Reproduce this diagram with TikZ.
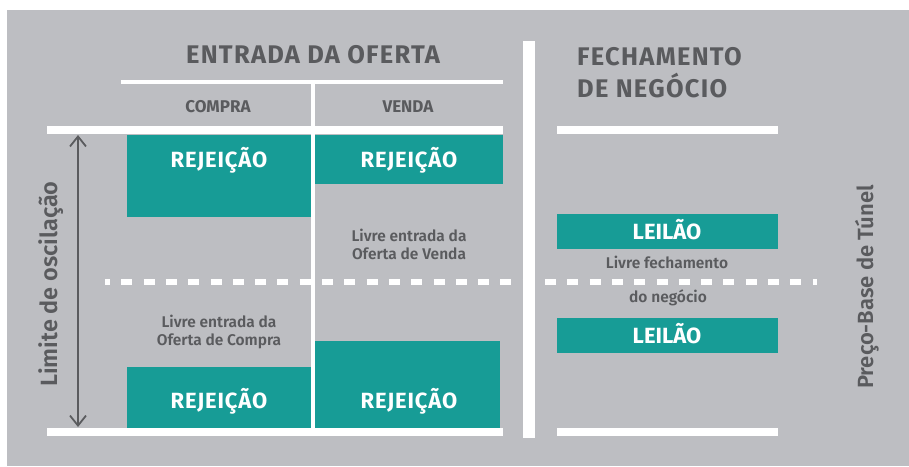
\documentclass[tikz,border=0pt]{standalone}
\usepackage{fontspec}
\setmainfont{Fira Sans}
\newfontfamily\fsemi{Fira Sans SemiBold}
\usetikzlibrary{arrows.meta}
\definecolor{bggray}{HTML}{BDBEC2}
\definecolor{ink}{HTML}{5A5B5E}
\definecolor{tealbox}{HTML}{179C96}
\tikzset{
  whitebar/.style={fill=white},
  tealrect/.style={fill=tealbox},
  boxtext/.style={text=white, font=\bfseries\fontsize{22}{22}\selectfont\addfontfeatures{LetterSpace=4}, anchor=base, inner sep=0pt},
  leitext/.style={text=white, font=\bfseries\fontsize{22}{22}\selectfont, anchor=base, inner sep=0pt},
  headtext/.style={text=ink, font=\bfseries\fontsize{25.5}{25.5}\selectfont\addfontfeatures{LetterSpace=5}, inner sep=0pt},
  coltext/.style={text=ink, font=\bfseries\fontsize{17}{17}\selectfont, anchor=base, inner sep=0pt},
  notetext/.style={text=ink, font=\fsemi\fontsize{15.5}{15.5}\selectfont, anchor=base, inner sep=0pt},
  sidetext/.style={text=ink, font=\fsemi\fontsize{22}{22}\selectfont, anchor=base, inner sep=0pt, rotate=90},
  dashline/.style={draw=white, line width=6pt, dash pattern=on 11pt off 11.3pt, dash phase=6pt},
  rangearrow/.style={draw=ink, line width=1.8pt, {Straight Barb[length=10pt,width=16pt]}-{Straight Barb[length=10pt,width=16pt]}},
}
\begin{document}
\begin{tikzpicture}[x=1pt,y=-1pt]
\useasboundingbox (0,0) rectangle (909,466);
\fill[white] (0,0) rectangle (909,466);
\fill[bggray] (7,10) rectangle (909,466);

% teal blocks
\path[tealrect] (127,135) rectangle (311,217);
\path[tealrect] (315,135) rectangle (503,184);
\path[tealrect] (127,367) rectangle (311,428);
\path[tealrect] (315,341) rectangle (500,428);
\path[tealrect] (557,214) rectangle (778,249);
\path[tealrect] (557,318) rectangle (778,353);

% white structure lines
\path[whitebar] (121,80) rectangle (503,84);
\path[whitebar] (47,126) rectangle (503,134);
\path[whitebar] (557,126) rectangle (778,134);
\path[whitebar] (47,428) rectangle (503,436);
\path[whitebar] (557,428) rectangle (778,436);
\path[whitebar] (311,84) rectangle (315,428);
\path[whitebar] (523,41) rectangle (535,438);

% dashed base line
\coordinate (dashL) at (105,281.5);
\coordinate (dashR) at (817,281.5);
\draw[dashline] (dashL) -- (dashR);

% range arrow
\coordinate (arrTop) at (78,135);
\coordinate (arrBot) at (78,427);
\draw[rangearrow] (arrTop) -- (arrBot);

% headings
\node[headtext, anchor=base] (hEntrada) at (313,63) {ENTRADA DA OFERTA};
\node[headtext, anchor=base west] (hFech1) at (577,65) {FECHAMENTO};
\node[headtext, anchor=base west] (hFech2) at (577,97) {DE NEGÓCIO};
\node[coltext] (hCompra) at (218,112) {COMPRA};
\node[coltext] (hVenda) at (408,112) {VENDA};

% box labels
\node[boxtext] (rej1) at (219,167) {REJEIÇÃO};
\node[boxtext] (rej2) at (409,167) {REJEIÇÃO};
\node[boxtext] (rej3) at (219,408) {REJEIÇÃO};
\node[boxtext] (rej4) at (409,408) {REJEIÇÃO};
\node[leitext] (lei1) at (667,239) {LEILÃO};
\node[leitext] (lei2) at (667,343) {LEILÃO};

% notes
\node[notetext] (nv1) at (409,241) {Livre entrada da};
\node[notetext] (nv2) at (409,259) {Oferta de Venda};
\node[notetext] (nc1) at (219,327) {Livre entrada da};
\node[notetext] (nc2) at (219,345) {Oferta de Compra};
\node[notetext] (nf1) at (667,268) {Livre fechamento};
\node[notetext] (nf2) at (668,302) {do negócio};

% side labels
\node[sidetext, font=\fsemi\fontsize{23.5}{23.5}\selectfont] (sLimite) at (57,284) {Limite de oscilação};
\node[sidetext] (sPreco) at (873,287) {Preço-Base de Túnel};
\end{tikzpicture}
\end{document}
